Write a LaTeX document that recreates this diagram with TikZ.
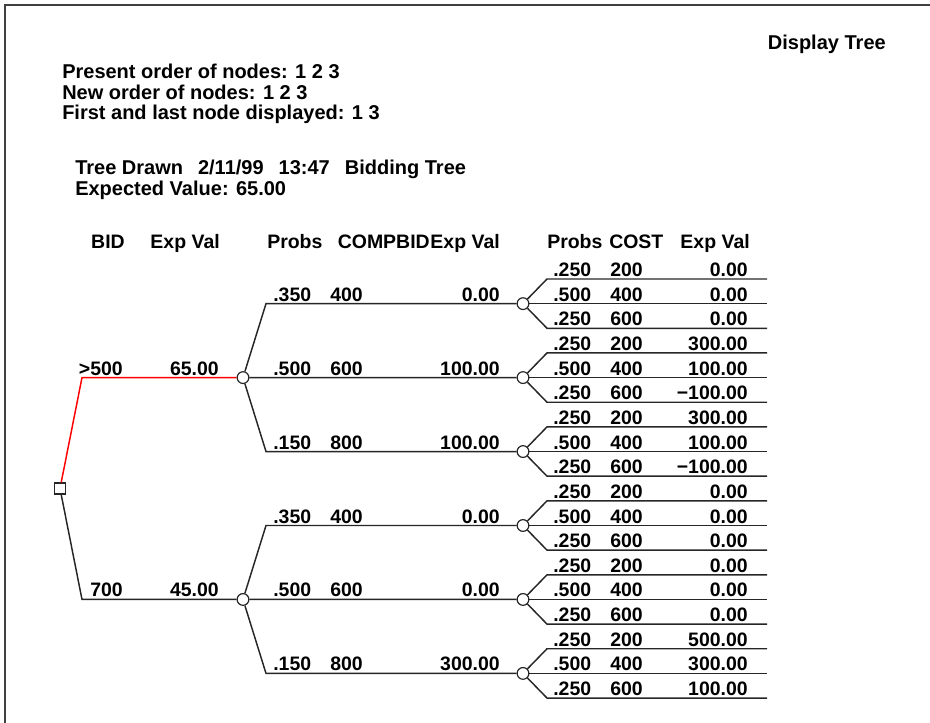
\documentclass[tikz,border=0pt]{standalone}
\usepackage{fontspec}
\setmainfont{Liberation Sans}
\begin{document}
\begin{tikzpicture}[x=0.75pt,y=-0.75pt,
  lbl/.style={inner sep=0pt,font=\fontsize{14.6}{17}\selectfont\bfseries},
  hdr/.style={inner sep=0pt,anchor=base west,font=\fontsize{15}{15}\selectfont\bfseries},
  edge/.style={line width=1.1pt,draw=black!85},
  pick/.style={line width=1.1pt,draw=red},
  chance/.style={circle,draw=black!85,line width=0.9pt,fill=white,inner sep=0pt,minimum size=8.8pt},
  decision/.style={rectangle,draw=black!85,line width=0.9pt,fill=white,inner sep=0pt,minimum size=8.2pt},
  frame/.style={line width=1.2pt,draw=black!75}]
\useasboundingbox (0,0) rectangle (930,723);
\draw[frame] (930,5) -- (5,5) -- (5,723);

% header texts
\node[hdr,anchor=base east] (title) at (886,50) {Display Tree};
\node[hdr] (h1) at (62,79) {Present order of nodes: 1 2 3};
\node[hdr] (h2) at (62,99.5) {New order of nodes: 1 2 3};
\node[hdr] (h3) at (62,120) {First and last node displayed: 1 3};
\node[hdr] (h4) at (75,175) {Tree Drawn\hspace{0.75em}2/11/99\hspace{0.75em}13:47\hspace{0.75em}Bidding Tree};
\node[hdr] (h5) at (75,196) {Expected Value: 65.00};

% column headings
\node[lbl,anchor=base east] (cBID) at (125,248) {BID};
\node[lbl,anchor=base east] (cEV1) at (220,248) {Exp Val};
\node[lbl,anchor=base west] (cPr2) at (267,248) {Probs};
\node[lbl,anchor=base east] (cCB) at (430,248) {COMPBID};
\node[lbl,anchor=base east] (cEV2) at (500,248) {Exp Val};
\node[lbl,anchor=base west] (cPr3) at (547,248) {Probs};
\node[lbl,anchor=base west] (cCO) at (609,248) {COST};
\node[lbl,anchor=base east] (cEV3) at (750,248) {Exp Val};

% decision and first-level chance nodes
\node[decision] (D) at (60,488.5) {};
\node[chance] (C1) at (243,377.6) {};
\node[chance] (C2) at (243,599.45) {};
\coordinate (Du) at (82,377.6);
\coordinate (Dl) at (82,599.45);
\draw[pick] (D) -- (Du) -- (C1);
\draw[edge] (D) -- (Dl) -- (C2);
\node[lbl,anchor=base east] (b1) at (123,375.1) {>500};
\node[lbl,anchor=base east] (v1) at (219,375.1) {65.00};
\node[lbl,anchor=base east] (b2) at (123,596.95) {700};
\node[lbl,anchor=base east] (v2) at (219,596.95) {45.00};

% second-level chance nodes
\foreach \j in {1,...,6}{
  \pgfmathsetmacro{\yc}{279+24.65*(3*\j-2)}
  \pgfmathsetmacro{\yu}{\yc-24.65}
  \pgfmathsetmacro{\yl}{\yc+24.65}
  \node[chance] (E\j) at (523,\yc) {};
  \coordinate (Eu\j) at (547,\yu);
  \coordinate (Eut\j) at (767,\yu);
  \coordinate (Emt\j) at (767,\yc);
  \coordinate (El\j) at (547,\yl);
  \coordinate (Elt\j) at (767,\yl);
  \draw[edge] (E\j) -- (Eu\j) -- (Eut\j);
  \draw[edge] (E\j) -- (Emt\j);
  \draw[edge] (E\j) -- (El\j) -- (Elt\j);
}

% first-level branches
\coordinate (C1u) at (266,303.65);
\coordinate (C1l) at (266,451.55);
\coordinate (C2u) at (266,525.5);
\coordinate (C2l) at (266,673.4);
\draw[edge] (C1) -- (C1u) -- (E1);
\draw[edge] (C1) -- (E2);
\draw[edge] (C1) -- (C1l) -- (E3);
\draw[edge] (C2) -- (C2u) -- (E4);
\draw[edge] (C2) -- (E5);
\draw[edge] (C2) -- (C2l) -- (E6);

% second-level labels
\foreach \j/\p/\c/\v in {1/.350/400/0.00, 2/.500/600/100.00, 3/.150/800/100.00,
                         4/.350/400/0.00, 5/.500/600/0.00, 6/.150/800/300.00}{
  \pgfmathsetmacro{\yb}{279+24.65*(3*\j-2)-2.5}
  \node[lbl,anchor=base west] (p\j) at (273,\yb) {\p};
  \node[lbl,anchor=base west] (c\j) at (330,\yb) {\c};
  \node[lbl,anchor=base east] (e\j) at (500,\yb) {\v};
}

% terminal labels
\foreach \k/\p/\c/\v in {0/.250/200/0.00, 1/.500/400/0.00, 2/.250/600/0.00,
   3/.250/200/300.00, 4/.500/400/100.00, 5/.250/600/−100.00,
   6/.250/200/300.00, 7/.500/400/100.00, 8/.250/600/−100.00,
   9/.250/200/0.00, 10/.500/400/0.00, 11/.250/600/0.00,
   12/.250/200/0.00, 13/.500/400/0.00, 14/.250/600/0.00,
   15/.250/200/500.00, 16/.500/400/300.00, 17/.250/600/100.00}{
  \pgfmathsetmacro{\yb}{279+24.65*\k-2.5}
  \node[lbl,anchor=base west] (tp\k) at (553,\yb) {\p};
  \node[lbl,anchor=base west] (tc\k) at (610,\yb) {\c};
  \node[lbl,anchor=base east] (tv\k) at (748,\yb) {\v};
}
\end{tikzpicture}
\end{document}
